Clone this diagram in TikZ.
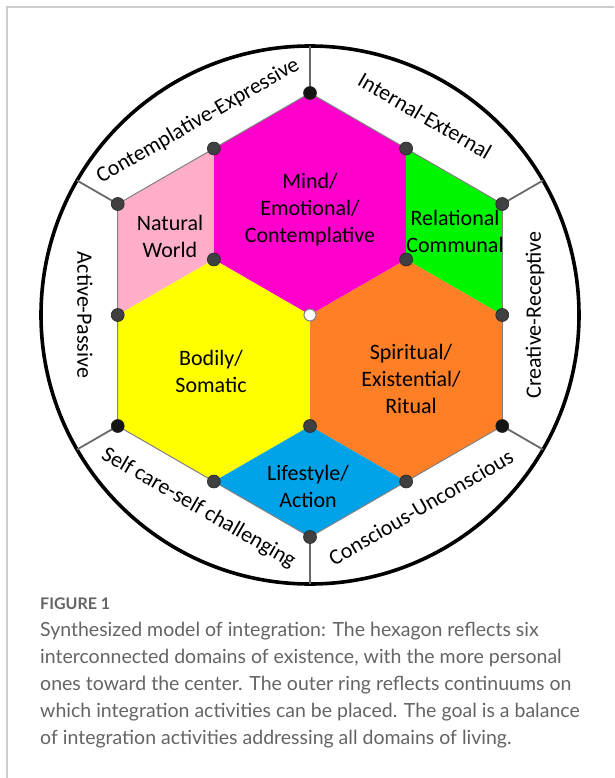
\documentclass[tikz,border=0pt]{standalone}
\usepackage{fontspec}
\setmainfont{Carlito}
\newfontfamily\capfont{Lato}
\usetikzlibrary{calc}

\definecolor{magentaA}{RGB}{255,0,204}
\definecolor{pinkA}{RGB}{255,174,201}
\definecolor{greenA}{RGB}{0,245,0}
\definecolor{yellowA}{RGB}{255,255,0}
\definecolor{orangeA}{RGB}{255,127,39}
\definecolor{blueA}{RGB}{0,162,232}
\definecolor{dotgray}{RGB}{64,64,64}
\definecolor{spoke}{RGB}{105,105,105}
\definecolor{framegray}{RGB}{205,205,205}
\definecolor{captxt}{RGB}{100,100,100}

\begin{document}
\begin{tikzpicture}[x=1pt,y=1pt,
  vdot/.style={circle, fill=dotgray, draw=black!85, line width=0.6pt, minimum size=13pt, inner sep=0pt},
  bdot/.style={vdot, fill=black!92},
  wdot/.style={circle, fill=white, draw=gray, line width=1pt, minimum size=12pt, inner sep=0pt},
  domainlabel/.style={font=\fontsize{22}{27}\selectfont, align=center, inner sep=0pt},
  ringlabel/.style={font=\fontsize{22}{27}\selectfont, inner sep=0pt},
  spokeline/.style={draw=spoke, line width=1.8pt},
  captionhead/.style={font=\capfont\bfseries\fontsize{16}{19}\selectfont, text=captxt, inner sep=0pt, anchor=base west},
  captionline/.style={font=\capfont\fontsize{19.5}{27}\selectfont, text=captxt, inner sep=0pt, anchor=base west},
]
\useasboundingbox (0,0) rectangle (614,-778);
\fill[white] (0,0) rectangle (614,-778);
\draw[framegray, line width=1.5pt] (7,-778) -- (7,-7) -- (614,-7);

% centre of the wheel
\coordinate (C) at (310,-315);

% corners of the large hexagon
\coordinate (vT)  at ($(C)+(90:222)$);
\coordinate (vTR) at ($(C)+(30:222)$);
\coordinate (vBR) at ($(C)+(-30:222)$);
\coordinate (vB)  at ($(C)+(-90:222)$);
\coordinate (vBL) at ($(C)+(-150:222)$);
\coordinate (vTL) at ($(C)+(150:222)$);
% midpoints of its sides
\coordinate (mTR) at ($(C)+(60:192.26)$);
\coordinate (mR)  at ($(C)+(0:192.26)$);
\coordinate (mBR) at ($(C)+(-60:192.26)$);
\coordinate (mBL) at ($(C)+(-120:192.26)$);
\coordinate (mL)  at ($(C)+(180:192.26)$);
\coordinate (mTL) at ($(C)+(120:192.26)$);
% inner corners
\coordinate (iR) at ($(C)+(30:111)$);
\coordinate (iB) at ($(C)+(-90:111)$);
\coordinate (iL) at ($(C)+(150:111)$);
% spoke ends on the ring
\coordinate (sT)  at ($(C)+(90:269)$);
\coordinate (sTR) at ($(C)+(30:269)$);
\coordinate (sBR) at ($(C)+(-30:269)$);
\coordinate (sB)  at ($(C)+(-90:269)$);
\coordinate (sBL) at ($(C)+(-150:269)$);
\coordinate (sTL) at ($(C)+(150:269)$);

% domains
\fill[magentaA] (vT) -- (mTR) -- (iR) -- (C) -- (iL) -- (mTL) -- cycle;
\fill[pinkA]    (mTL) -- (vTL) -- (mL) -- (iL) -- cycle;
\fill[greenA]   (mTR) -- (vTR) -- (mR) -- (iR) -- cycle;
\fill[yellowA]  (iL) -- (mL) -- (vBL) -- (mBL) -- (iB) -- (C) -- cycle;
\fill[orangeA]  (iR) -- (mR) -- (vBR) -- (mBR) -- (iB) -- (C) -- cycle;
\fill[blueA]    (iB) -- (mBL) -- (vB) -- (mBR) -- cycle;
\draw[gray, line width=1pt] (vT) -- (vTR) -- (vBR) -- (vB) -- (vBL) -- (vTL) -- cycle;

% outer ring
\draw[line width=3.6pt] (C) circle (269);

% spokes from the hexagon corners to the ring
\draw[spokeline] (vT)  -- (sT);
\draw[spokeline] (vTR) -- (sTR);
\draw[spokeline] (vBR) -- (sBR);
\draw[spokeline] (vB)  -- (sB);
\draw[spokeline] (vBL) -- (sBL);
\draw[spokeline] (vTL) -- (sTL);

% vertex markers
\node[bdot] (dT)  at (vT)  {};
\node[vdot] (dTR) at (vTR) {};
\node[bdot] (dBR) at (vBR) {};
\node[vdot] (dB)  at (vB)  {};
\node[bdot] (dBL) at (vBL) {};
\node[vdot] (dTL) at (vTL) {};
\node[vdot] (dmTR) at (mTR) {};
\node[vdot] (dmR)  at (mR)  {};
\node[vdot] (dmBR) at (mBR) {};
\node[vdot] (dmBL) at (mBL) {};
\node[vdot] (dmL)  at (mL)  {};
\node[vdot] (dmTL) at (mTL) {};
\node[vdot] (diR) at (iR) {};
\node[vdot] (diB) at (iB) {};
\node[vdot] (diL) at (iL) {};
\node[wdot] (dC) at (C) {};

% domain names
\node[domainlabel] (tMind) at (310,-210) {Mind/\\Emotional/\\Contemplative};
\node[domainlabel] (tNat)  at (170,-236) {Natural\\World};
\node[domainlabel] (tRel)  at (455,-231) {Relational\\Communal};
\node[domainlabel] (tBod)  at (211,-371) {Bodily/\\Somatic};
\node[domainlabel] (tSpi)  at (411,-379) {Spiritual/\\Existential/\\Ritual};
\node[domainlabel] (tLif)  at (308,-486) {Lifestyle/\\Action};

% continuum names in the ring
\node[ringlabel, rotate=30]  (rCE) at ($(C)+(120:224)$) {Contemplative-Expressive};
\node[ringlabel, rotate=-30] (rIE) at ($(C)+(60:230)$) {Internal-External};
\node[ringlabel, rotate=90]  (rCR) at ($(C)+(0:225)$) {Creative-Receptive};
\node[ringlabel, rotate=30]  (rCU) at ($(C)+(-60:222)$) {Conscious-Unconscious};
\node[ringlabel, rotate=-30] (rSC) at ($(C)+(-120:223)$) {Self care-self challenging};
\node[ringlabel, rotate=-90] (rAP) at ($(C)+(180:225)$) {Active-Passive};

% caption
\node[captionhead] (capH) at (40,-609) {FIGURE 1};
\node[captionline] (cap1) at (40,-636) {Synthesized model of integration: The hexagon reflects six};
\node[captionline] (cap2) at (40,-663) {interconnected domains of existence, with the more personal};
\node[captionline] (cap3) at (40,-690) {ones toward the center. The outer ring reflects continuums on};
\node[captionline] (cap4) at (40,-717) {which integration activities can be placed. The goal is a balance};
\node[captionline] (cap5) at (40,-744) {of integration activities addressing all domains of living.};
\end{tikzpicture}
\end{document}
